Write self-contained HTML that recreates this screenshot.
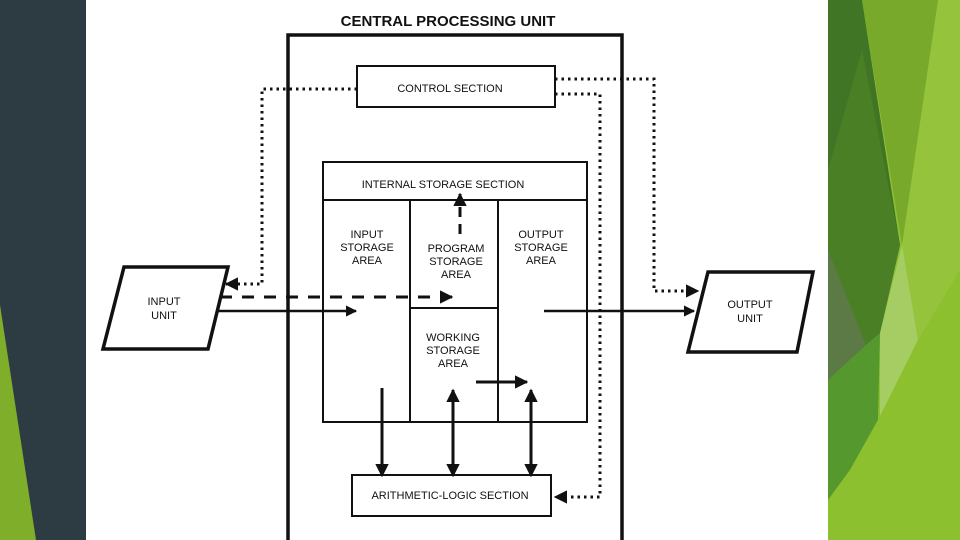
<!DOCTYPE html>
<html><head><meta charset="utf-8"><style>
html,body{margin:0;padding:0;background:#fff;}
svg{display:block;}
text{font-family:"Liberation Sans",Arial,sans-serif;font-size:11px;fill:#111;text-anchor:middle;}
</style></head><body>
<svg width="960" height="540" viewBox="0 0 960 540" xmlns="http://www.w3.org/2000/svg">
<defs>
<marker id="ah" viewBox="0 0 10 10" refX="9" refY="5" markerWidth="4.5" markerHeight="4.5" orient="auto-start-reverse"><path d="M0,0 L10,5 L0,10 z" fill="#111"/></marker>
</defs>
<rect width="960" height="540" fill="#fff"/>
<!-- left panel -->
<rect x="0" y="0" width="86" height="540" fill="#2d3c42"/>
<polygon points="0,305 36,540 0,540" fill="#7fae2a"/>
<!-- right panel -->
<rect x="828" y="0" width="132" height="540" fill="#8dbf35"/>
<polygon points="938,0 960,0 960,540 900,540 902,245" fill="#95c43c"/>
<polygon points="862,0 938,0 902,245" fill="#78a92b"/>
<polygon points="828,0 862,0 900,245 880,333 866,345 828,380" fill="#3f7524"/>
<polygon points="828,170 862,50 900,245 880,333 866,345 828,330" fill="#4a7f25"/>
<polygon points="828,250 866,345 828,380" fill="#5c7a45"/>
<polygon points="828,380 866,345 880,333 878,420 850,470 828,500" fill="#55982d"/>
<polygon points="880,333 902,245 918,340 880,420" fill="#a6cc64"/>
<polygon points="828,500 850,470 878,420 918,340 960,270 960,540 828,540" fill="#8cc02e"/>
<!-- title -->
<text x="448" y="26" style="font-size:15px;font-weight:bold">CENTRAL PROCESSING UNIT</text>
<g fill="none" stroke="#111">
<path d="M288,545 V35 H622 V545" stroke-width="3.5"/>
<rect x="357" y="66" width="198" height="41" stroke-width="2"/>
<rect x="323" y="162" width="264" height="260" stroke-width="2"/>
<line x1="323" y1="200" x2="587" y2="200" stroke-width="2"/>
<line x1="410" y1="200" x2="410" y2="422" stroke-width="2"/>
<line x1="498" y1="200" x2="498" y2="422" stroke-width="2"/>
<line x1="410" y1="308" x2="498" y2="308" stroke-width="2"/>
<rect x="352" y="475" width="199" height="41" stroke-width="2"/>
<polygon points="124,267 228,267 208,349 103,349" stroke-width="3.5"/>
<polygon points="708,272 813,272 797,352 688,352" stroke-width="3.5"/>
<path d="M357,89 H262 V284 H226" stroke-width="3" stroke-dasharray="2.5,4" marker-end="url(#ah)"/>
<path d="M555,79 H654 V291 H698" stroke-width="3" stroke-dasharray="2.5,4" marker-end="url(#ah)"/>
<path d="M555,94 H600 V497 H555" stroke-width="3" stroke-dasharray="2.5,4" marker-end="url(#ah)"/>
<path d="M220,297 H452" stroke-width="3" stroke-dasharray="12,10" marker-end="url(#ah)"/>
<path d="M460,234 V194" stroke-width="3" stroke-dasharray="10,7" marker-end="url(#ah)"/>
<path d="M216,311 H356" stroke-width="2.5" marker-end="url(#ah)"/>
<path d="M544,311 H694" stroke-width="2.5" marker-end="url(#ah)"/>
<path d="M476,382 H527" stroke-width="3" marker-end="url(#ah)"/>
<path d="M382,388 V476" stroke-width="3" marker-end="url(#ah)"/>
<path d="M453,390 V476" stroke-width="3" marker-start="url(#ah)" marker-end="url(#ah)"/>
<path d="M531,390 V476" stroke-width="3" marker-start="url(#ah)" marker-end="url(#ah)"/>
</g>
<text x="450" y="92">CONTROL SECTION</text>
<text x="443" y="188">INTERNAL STORAGE SECTION</text>
<text x="367" y="238">INPUT</text><text x="367" y="251">STORAGE</text><text x="367" y="264">AREA</text>
<text x="456" y="252">PROGRAM</text><text x="456" y="265">STORAGE</text><text x="456" y="278">AREA</text>
<text x="541" y="238">OUTPUT</text><text x="541" y="251">STORAGE</text><text x="541" y="264">AREA</text>
<text x="453" y="341">WORKING</text><text x="453" y="354">STORAGE</text><text x="453" y="367">AREA</text>
<text x="450" y="499">ARITHMETIC-LOGIC SECTION</text>
<text x="164" y="305">INPUT</text><text x="164" y="319">UNIT</text>
<text x="750" y="308">OUTPUT</text><text x="750" y="322">UNIT</text>
</svg>
</body></html>
